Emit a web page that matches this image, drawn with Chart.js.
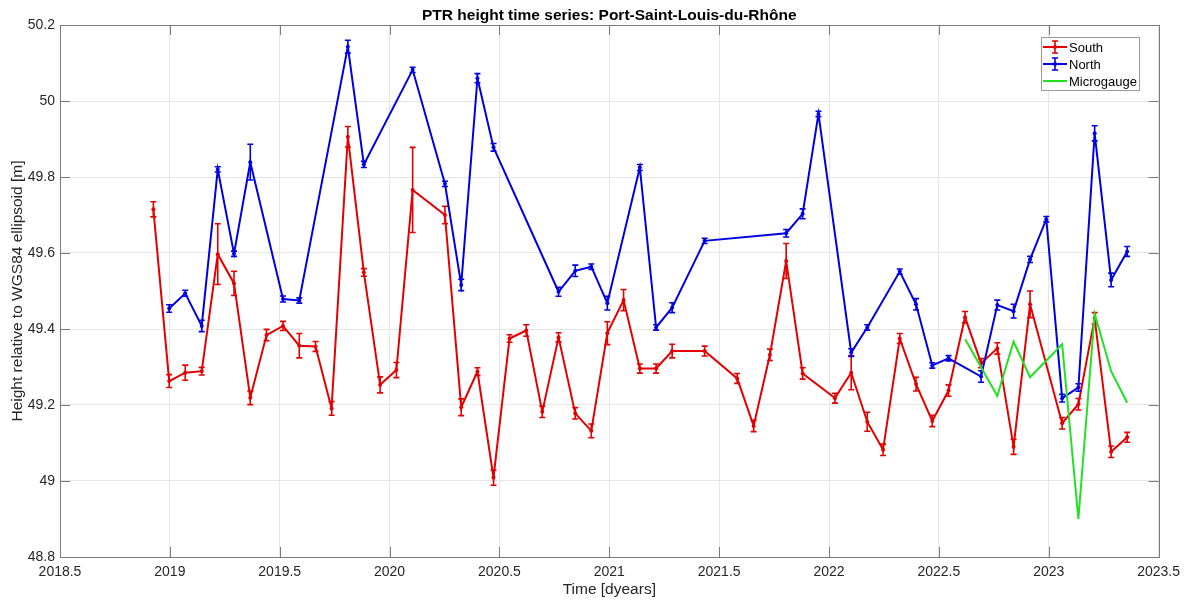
<!DOCTYPE html>
<html>
<head>
<meta charset="utf-8">
<script src="https://cdn.jsdelivr.net/npm/chart.js@4/dist/chart.umd.min.js"></script>
<style>
  html, body { margin: 0; padding: 0; background: #ffffff; }
  #wrap { width: 1187px; height: 601px; position: relative; }
</style>
</head>
<body>
<div id="wrap"><canvas id="c" width="1187" height="601"></canvas></div>
<script>
// ---- Text ----
const chartTitle = 'PTR height time series: Port-Saint-Louis-du-Rhône';
const xAxisTitle = 'Time [dyears]';
const yAxisTitle = 'Height relative to WGS84 ellipsoid [m]';
const seriesNames = ['South', 'North', 'Microgauge'];

// ---- Axis ticks ----
const xTicks = [2018.5, 2019, 2019.5, 2020, 2020.5, 2021, 2021.5, 2022, 2022.5, 2023, 2023.5];
const xTickLabels = ['2018.5', '2019', '2019.5', '2020', '2020.5', '2021', '2021.5', '2022', '2022.5', '2023', '2023.5'];
const yTicks = [48.8, 49, 49.2, 49.4, 49.6, 49.8, 50, 50.2];
const yTickLabels = ['48.8', '49', '49.2', '49.4', '49.6', '49.8', '50', '50.2'];

// ---- South PTR ----
const southTime = [2018.925, 2018.997, 2019.070, 2019.145, 2019.218, 2019.292, 2019.366, 2019.440, 2019.515, 2019.589,
  2019.663, 2019.736, 2019.810, 2019.883, 2019.957, 2020.031, 2020.105, 2020.252, 2020.326, 2020.400,
  2020.473, 2020.546, 2020.622, 2020.695, 2020.769, 2020.845, 2020.918, 2020.991, 2021.065, 2021.139,
  2021.213, 2021.286, 2021.434, 2021.582, 2021.657, 2021.731, 2021.805, 2021.880, 2022.027, 2022.101,
  2022.174, 2022.246, 2022.322, 2022.396, 2022.470, 2022.544, 2022.619, 2022.692, 2022.766, 2022.840,
  2022.915, 2023.061, 2023.135, 2023.209, 2023.284, 2023.357];
const southHeight = [49.715, 49.263, 49.285, 49.289, 49.597, 49.520, 49.219, 49.384, 49.408, 49.356,
  49.354, 49.191, 49.906, 49.549, 49.253, 49.292, 49.766, 49.700, 49.194, 49.288,
  49.009, 49.375, 49.396, 49.182, 49.378, 49.178, 49.132, 49.389, 49.476, 49.296,
  49.296, 49.342, 49.342, 49.270, 49.145, 49.332, 49.579, 49.283, 49.218, 49.285,
  49.156, 49.082, 49.375, 49.255, 49.158, 49.238, 49.431, 49.310, 49.349, 49.090,
  49.465, 49.152, 49.202, 49.428, 49.077, 49.115];
const southError = [0.020, 0.017, 0.020, 0.010, 0.080, 0.032, 0.018, 0.015, 0.012, 0.032,
  0.013, 0.018, 0.027, 0.010, 0.021, 0.020, 0.112, 0.023, 0.022, 0.010,
  0.020, 0.010, 0.015, 0.015, 0.012, 0.015, 0.018, 0.030, 0.028, 0.012,
  0.012, 0.018, 0.013, 0.013, 0.015, 0.015, 0.046, 0.015, 0.013, 0.045,
  0.025, 0.015, 0.013, 0.018, 0.015, 0.015, 0.015, 0.012, 0.015, 0.020,
  0.035, 0.015, 0.015, 0.015, 0.015, 0.013];

// ---- North PTR ----
const northTime = [2018.997, 2019.070, 2019.145, 2019.218, 2019.292, 2019.366, 2019.515, 2019.589, 2019.810, 2019.883,
  2020.105, 2020.252, 2020.326, 2020.400, 2020.473, 2020.769, 2020.845, 2020.918, 2020.991, 2021.139,
  2021.213, 2021.286, 2021.434, 2021.805, 2021.880, 2021.952, 2022.101, 2022.174, 2022.322, 2022.396,
  2022.470, 2022.544, 2022.692, 2022.766, 2022.840, 2022.915, 2022.989, 2023.061, 2023.135, 2023.209,
  2023.284, 2023.357];
const northHeight = [49.454, 49.494, 49.408, 49.820, 49.598, 49.839, 49.479, 49.475, 50.143, 49.833,
  50.082, 49.782, 49.516, 50.060, 49.878, 49.498, 49.553, 49.564, 49.468, 49.825,
  49.404, 49.456, 49.632, 49.652, 49.703, 49.966, 49.338, 49.404, 49.551, 49.465,
  49.304, 49.323, 49.275, 49.463, 49.447, 49.583, 49.689, 49.218, 49.246, 49.915,
  49.529, 49.604];
const northError = [0.010, 0.008, 0.015, 0.007, 0.007, 0.047, 0.008, 0.007, 0.017, 0.008,
  0.007, 0.007, 0.015, 0.012, 0.010, 0.012, 0.015, 0.007, 0.018, 0.008,
  0.007, 0.013, 0.007, 0.010, 0.013, 0.007, 0.010, 0.007, 0.007, 0.015,
  0.007, 0.007, 0.015, 0.013, 0.018, 0.008, 0.007, 0.010, 0.010, 0.020,
  0.018, 0.013];

// ---- Microgauge ----
const gaugeTime = [2022.620, 2022.766, 2022.840, 2022.915, 2023.061, 2023.135, 2023.209, 2023.284, 2023.357];
const gaugeHeight = [49.373, 49.224, 49.367, 49.273, 49.360, 48.900, 49.440, 49.289, 49.206];

// ---- Style ----
const colSouth = '#e30000';
const colNorth = '#0000e0';
const colGauge = '#22e022';
const axisColor = '#7a7a7a';
const gridColor = '#e6e6e6';
const textColor = '#262626';
const fontFamily = '"Liberation Sans", Arial, Helvetica, sans-serif';

const toPoints = (xs, ys) => xs.map((x, i) => ({ x: x, y: ys[i] }));

// Vertical error bars with caps, drawn right after each dataset's own line.
const errorBarPlugin = {
  id: 'errorBars',
  afterDatasetDraw(chart, args) {
    const ds = chart.data.datasets[args.index];
    if (!ds.errors) return;
    const { ctx, scales: { x, y } } = chart;
    ctx.save();
    ctx.strokeStyle = ds.borderColor;
    ctx.lineWidth = 1.6;
    ds.data.forEach((p, i) => {
      const e = ds.errors[i];
      const px = x.getPixelForValue(p.x);
      const yt = y.getPixelForValue(p.y + e);
      const yb = y.getPixelForValue(p.y - e);
      ctx.beginPath();
      ctx.moveTo(px, yt); ctx.lineTo(px, yb);
      ctx.moveTo(px - 3, yt); ctx.lineTo(px + 3, yt);
      ctx.moveTo(px - 3, yb); ctx.lineTo(px + 3, yb);
      ctx.stroke();
    });
    ctx.restore();
  }
};

// Box, inward tick marks, title and legend.
const framePlugin = {
  id: 'frame',
  afterDraw(chart) {
    const { ctx, chartArea: a, scales: { x, y } } = chart;
    ctx.save();
    // box
    ctx.strokeStyle = axisColor;
    ctx.lineWidth = 1;
    ctx.strokeRect(Math.round(a.left) + 0.5, Math.round(a.top) + 0.5,
      Math.round(a.right - a.left), Math.round(a.bottom - a.top));
    // inward ticks on all four sides
    const tl = 10;
    ctx.beginPath();
    xTicks.forEach(v => {
      const px = Math.round(x.getPixelForValue(v)) + 0.5;
      ctx.moveTo(px, a.bottom); ctx.lineTo(px, a.bottom - tl);
      ctx.moveTo(px, a.top); ctx.lineTo(px, a.top + tl);
    });
    yTicks.forEach(v => {
      const py = Math.round(y.getPixelForValue(v)) + 0.5;
      ctx.moveTo(a.left, py); ctx.lineTo(a.left + tl, py);
      ctx.moveTo(a.right, py); ctx.lineTo(a.right - tl, py);
    });
    ctx.stroke();

    // title
    ctx.fillStyle = '#000000';
    ctx.font = 'bold 15.5px ' + fontFamily;
    ctx.textAlign = 'center';
    ctx.textBaseline = 'alphabetic';
    ctx.fillText(chartTitle, (a.left + a.right) / 2, 20);

    // legend
    const lx = 1041, ly = 37, lw = 98, lh = 53;
    ctx.fillStyle = '#ffffff';
    ctx.fillRect(lx, ly, lw, lh);
    ctx.strokeStyle = '#9a9a9a';
    ctx.strokeRect(lx + 0.5, ly + 0.5, lw, lh);
    const rows = [47, 64, 81];
    chart.data.datasets.forEach((ds, i) => {
      const cy = rows[i];
      ctx.strokeStyle = ds.borderColor;
      ctx.lineWidth = 2;
      ctx.beginPath();
      ctx.moveTo(1043, cy); ctx.lineTo(1067, cy);
      ctx.stroke();
      if (ds.errors) {
        const cx = 1055;
        ctx.lineWidth = 1.6;
        ctx.beginPath();
        ctx.moveTo(cx, cy - 6); ctx.lineTo(cx, cy + 6);
        ctx.moveTo(cx - 3, cy - 6); ctx.lineTo(cx + 3, cy - 6);
        ctx.moveTo(cx - 3, cy + 6); ctx.lineTo(cx + 3, cy + 6);
        ctx.stroke();
        ctx.fillStyle = ds.borderColor;
        ctx.beginPath(); ctx.arc(cx, cy, 2, 0, Math.PI * 2); ctx.fill();
      }
      ctx.fillStyle = '#000000';
      ctx.font = '13px ' + fontFamily;
      ctx.textAlign = 'left';
      ctx.textBaseline = 'middle';
      ctx.fillText(ds.label, 1069, cy + 1);
    });
    ctx.restore();
  }
};

const lineSet = (label, xs, ys, color, errors, order, dots) => ({
  label: label,
  data: toPoints(xs, ys),
  errors: errors,
  borderColor: color,
  backgroundColor: color,
  borderWidth: 2,
  pointRadius: dots ? 2 : 0,
  pointBorderWidth: 0,
  pointBackgroundColor: color,
  showLine: true,
  tension: 0,
  fill: false,
  order: order
});

new Chart(document.getElementById('c'), {
  type: 'scatter',
  data: {
    datasets: [
      lineSet(seriesNames[0], southTime, southHeight, colSouth, southError, 2, true),
      lineSet(seriesNames[1], northTime, northHeight, colNorth, northError, 1, true),
      lineSet(seriesNames[2], gaugeTime, gaugeHeight, colGauge, null, 0, false)
    ]
  },
  options: {
    responsive: false,
    animation: false,
    devicePixelRatio: 1,
    layout: { padding: { left: 0, right: 28, top: 25, bottom: 0 } },
    plugins: {
      legend: { display: false },
      title: { display: false },
      tooltip: { enabled: false }
    },
    scales: {
      x: {
        type: 'linear',
        min: 2018.5,
        max: 2023.5,
        afterBuildTicks: s => { s.ticks = xTicks.map(v => ({ value: v })); },
        afterFit: s => { s.height = 44; },
        ticks: {
          autoSkip: false,
          maxRotation: 0,
          padding: 7,
          color: textColor,
          font: { family: fontFamily, size: 14 },
          callback: (v) => xTickLabels[xTicks.indexOf(v)]
        },
        grid: { color: gridColor, drawTicks: false, lineWidth: 1 },
        border: { display: false },
        title: {
          display: true,
          text: xAxisTitle,
          color: textColor,
          font: { family: fontFamily, size: 15.5 },
          padding: { top: 0, bottom: 2 }
        }
      },
      y: {
        type: 'linear',
        min: 48.8,
        max: 50.2,
        afterBuildTicks: s => { s.ticks = yTicks.map(v => ({ value: v })); },
        afterFit: s => { s.width = 60; },
        ticks: {
          autoSkip: false,
          padding: 5,
          color: textColor,
          font: { family: fontFamily, size: 14 },
          callback: (v) => yTickLabels[yTicks.indexOf(v)]
        },
        grid: { color: gridColor, drawTicks: false, lineWidth: 1 },
        border: { display: false },
        title: {
          display: true,
          text: yAxisTitle,
          color: textColor,
          font: { family: fontFamily, size: 15.5 },
          padding: { top: 8, bottom: 0 }
        }
      }
    }
  },
  plugins: [errorBarPlugin, framePlugin]
});
</script>
</body>
</html>
